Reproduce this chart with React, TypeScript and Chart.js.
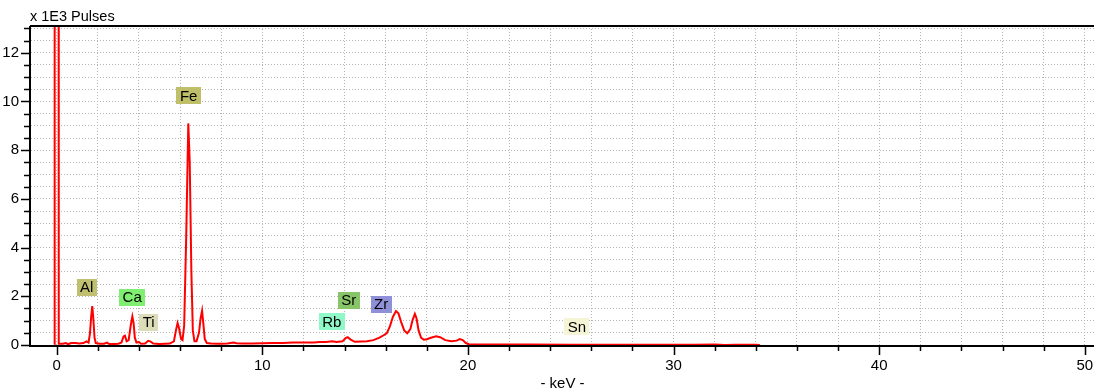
import React, { useEffect, useRef } from "react";
import { Chart, registerables } from "chart.js";

Chart.register(...registerables);

// Energy axis (keV) and counts (x 1000 pulses)
const energies = [
  -0.11, -0.1, -0.05, 0.05, 0.09, 0.1, 0.3, 0.45, 0.55, 0.7, 0.9, 1.1, 1.3, 1.45, 1.55, 1.62, 1.68, 1.73, 1.78, 1.84,
  1.9, 2.1, 2.3, 2.45, 2.55, 2.8, 3.0, 3.15, 3.25, 3.32, 3.4, 3.5, 3.6, 3.68, 3.74, 3.8, 3.88, 4.0, 4.1, 4.3,
  4.45, 4.55, 4.7, 5.0, 5.3, 5.5, 5.7, 5.8, 5.88, 5.95, 6.05, 6.12, 6.2, 6.3, 6.4, 6.47, 6.55, 6.62, 6.7, 6.8,
  6.92, 7.0, 7.07, 7.13, 7.2, 7.3, 7.5, 7.8, 8.0, 8.3, 8.6, 8.75, 9.0, 9.5, 10.0, 10.5, 11.0, 11.5, 12.0, 12.5,
  12.8, 13.1, 13.4, 13.6, 13.9, 14.05, 14.15, 14.3, 14.5, 14.8, 15.1, 15.4, 15.7, 15.9, 16.05, 16.2, 16.35, 16.5, 16.62, 16.75,
  16.9, 17.05, 17.2, 17.3, 17.42, 17.5, 17.6, 17.72, 17.85, 18.0, 18.2, 18.45, 18.65, 18.9, 19.2, 19.45, 19.6, 19.75, 19.9, 20.05,
  21.0, 23.0, 25.0, 27.0, 29.0, 31.0, 32.0, 32.5, 33.0, 34.0, 34.2,
];
const counts = [
  0.02, 20, 30, 30, 20, 0.05, 0.05, 0.08, 0.03, 0.08, 0.08, 0.06, 0.08, 0.15, 0.1, 0.5, 1.2, 1.6, 1.1, 0.3,
  0.08, 0.05, 0.05, 0.1, 0.04, 0.04, 0.05, 0.1, 0.35, 0.38, 0.15, 0.2, 0.8, 1.17, 0.9, 0.3, 0.1, 0.12, 0.05, 0.06,
  0.17, 0.15, 0.06, 0.04, 0.05, 0.06, 0.15, 0.6, 0.9, 0.7, 0.25, 0.2, 0.8, 4.5, 9.1, 7.5, 3.0, 0.6, 0.15, 0.15,
  0.5, 1.1, 1.41, 0.9, 0.25, 0.08, 0.06, 0.05, 0.05, 0.06, 0.1, 0.07, 0.06, 0.06, 0.07, 0.08, 0.08, 0.1, 0.1, 0.1,
  0.12, 0.12, 0.15, 0.12, 0.15, 0.28, 0.32, 0.22, 0.13, 0.14, 0.15, 0.2, 0.3, 0.4, 0.48, 0.75, 1.15, 1.39, 1.3, 0.95,
  0.6, 0.48, 0.65, 1.0, 1.28, 1.1, 0.6, 0.3, 0.22, 0.24, 0.3, 0.36, 0.32, 0.2, 0.15, 0.18, 0.24, 0.2, 0.08, 0.03,
  0.02, 0.02, 0.01, 0.01, 0.01, 0.01, 0.02, 0.0, 0.01, 0.01, 0.0,
];

// Element labels
const elementNames = ["Al", "Fe", "Ca", "Ti", "Rb", "Sr", "Zr", "Sn"];
const elementX = [1.46, 6.42, 3.67, 4.47, 13.38, 14.2, 15.78, 25.3];
const elementY = [2.37, 10.25, 1.97, 0.94, 0.96, 1.84, 1.68, 0.76];
const elementColors = ["#c0c070", "#bfbf6a", "#80ee70", "#dcdcb8", "#90f8c8", "#88c468", "#9090d8", "#f5f5d5"];

const xTickValues = Array.from({ length: 26 }, (_, i) => i * 2);
const yTickValues = Array.from({ length: 27 }, (_, i) => i * 0.5);

const FONT = "Arial, 'Liberation Sans', sans-serif";

const overlayPlugin = {
  id: "overlay",
  afterDraw(chart: any) {
    const { ctx, chartArea } = chart;
    const xs = chart.scales.x;
    const ys = chart.scales.y;
    ctx.save();
    // axes lines
    ctx.strokeStyle = "#000";
    ctx.lineWidth = 2;
    ctx.beginPath();
    ctx.moveTo(chartArea.left - 1, chartArea.top);
    ctx.lineTo(chartArea.left - 1, chartArea.bottom + 1);
    ctx.lineTo(chartArea.right, chartArea.bottom + 1);
    ctx.moveTo(chartArea.left - 1, chartArea.top);
    ctx.lineTo(chartArea.right, chartArea.top);
    ctx.stroke();
    // tick marks
    ctx.lineWidth = 1.5;
    ctx.beginPath();
    xTickValues.forEach((v) => {
      const px = Math.round(xs.getPixelForValue(v)) + 0.5;
      const len = v % 10 === 0 ? 9 : 5;
      ctx.moveTo(px, chartArea.bottom + 1);
      ctx.lineTo(px, chartArea.bottom + 1 + len);
    });
    yTickValues.forEach((v) => {
      const py = Math.round(ys.getPixelForValue(v)) + 0.5;
      const len = v % 2 === 0 ? 9 : 6;
      ctx.moveTo(chartArea.left - 1, py);
      ctx.lineTo(chartArea.left - 1 - len, py);
    });
    ctx.stroke();
    // element label boxes
    ctx.font = `15px ${FONT}`;
    ctx.textAlign = "center";
    ctx.textBaseline = "middle";
    elementNames.forEach((name, i) => {
      const cx = xs.getPixelForValue(elementX[i]);
      const cy = ys.getPixelForValue(elementY[i]);
      const w = ctx.measureText(name).width + 7;
      const h = 17;
      ctx.fillStyle = elementColors[i];
      ctx.fillRect(Math.round(cx - w / 2), Math.round(cy - h / 2), Math.round(w), h);
      ctx.fillStyle = "#000";
      ctx.fillText(name, cx, cy + 1);
    });
    // titles
    ctx.textAlign = "left";
    ctx.textBaseline = "alphabetic";
    ctx.font = `14.5px ${FONT}`;
    ctx.fillText("x 1E3 Pulses", 30, 21);
    ctx.textAlign = "center";
    ctx.font = `15px ${FONT}`;
    ctx.fillText("- keV -", (chartArea.left + chartArea.right) / 2, 388);
    ctx.restore();
  },
};

export default function App() {
  const ref = useRef<HTMLCanvasElement>(null);
  useEffect(() => {
    document.body.style.margin = "0";
    const data = energies.map((e, i) => ({ x: e, y: counts[i] }));
    const chart = new Chart(ref.current as HTMLCanvasElement, {
      type: "line",
      data: {
        datasets: [
          {
            data,
            borderColor: "#ff0000",
            borderWidth: 2,
            pointRadius: 0,
            tension: 0,
            fill: false,
          },
        ],
      },
      options: {
        animation: false,
        responsive: false,
        layout: { padding: { top: 26, right: 0, left: 0, bottom: 0 } },
        plugins: { legend: { display: false }, tooltip: { enabled: false } },
        scales: {
          x: {
            type: "linear",
            min: -1.25,
            max: 50.45,
            afterBuildTicks: (s: any) => {
              s.ticks = xTickValues.map((v) => ({ value: v }));
            },
            afterFit: (s: any) => {
              s.height = 47;
              s.paddingLeft = 0;
              s.paddingRight = 0;
            },
            ticks: {
              autoSkip: false,
              maxRotation: 0,
              padding: 12,
              color: "#000",
              font: { family: FONT, size: 15 },
              callback: (v: any) => (Number(v) % 10 === 0 ? String(v) : ""),
            },
            grid: { color: "#b4b4b4", lineWidth: 1, drawTicks: false },
            border: { display: false, dash: [1, 2] },
          },
          y: {
            type: "linear",
            min: 0,
            max: 13.1,
            afterBuildTicks: (s: any) => {
              s.ticks = yTickValues.map((v) => ({ value: v }));
            },
            afterFit: (s: any) => {
              s.width = 31;
              s.paddingTop = 0;
              s.paddingBottom = 0;
            },
            ticks: {
              autoSkip: false,
              padding: 12,
              color: "#000",
              font: { family: FONT, size: 15 },
              callback: (v: any) => (Number(v) % 2 === 0 ? String(v) : ""),
            },
            grid: { color: "#b4b4b4", lineWidth: 1, drawTicks: false },
            border: { display: false, dash: [1, 2] },
          },
        },
      },
      plugins: [overlayPlugin],
    });
    return () => chart.destroy();
  }, []);
  return <canvas ref={ref} width={1094} height={392} style={{ display: "block" }} />;
}
